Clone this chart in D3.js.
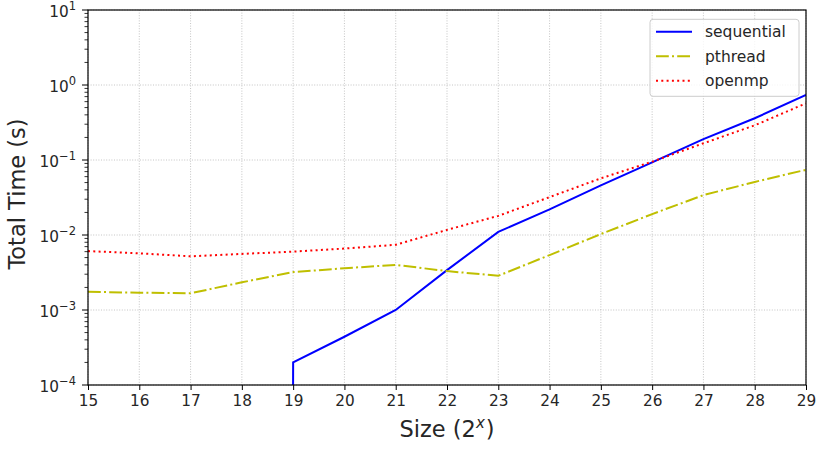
<!DOCTYPE html>
<html>
<head>
<meta charset="utf-8">
<script src="https://cdn.jsdelivr.net/npm/d3@7"></script>
<style>
  body { margin: 0; background: #fff; }
  text { font-family: "DejaVu Sans", sans-serif; fill: #262626; }
</style>
</head>
<body>
<svg id="chart" width="822" height="450"></svg>
<script>
// data
const sizes = [15, 16, 17, 18, 19, 20, 21, 22, 23, 24, 25, 26, 27, 28, 29];
// sequential timed 0 for the small sizes (log axis clips them)
const sequential = [0, 0, 0, 0, 0.0002, 0.00044, 0.001, 0.0034, 0.011, 0.022, 0.046, 0.093, 0.19, 0.36, 0.74];
const pthread = [0.00175, 0.0017, 0.00167, 0.00234, 0.0032, 0.0036, 0.004, 0.0033, 0.00286, 0.0054, 0.0103, 0.019, 0.034, 0.051, 0.074];
const openmp = [0.0061, 0.0057, 0.0052, 0.0056, 0.006, 0.0066, 0.0074, 0.0117, 0.018, 0.032, 0.057, 0.095, 0.167, 0.29, 0.57];
const seriesNames = ["sequential", "pthread", "openmp"];
const yDecades = [-4, -3, -2, -1, 0, 1];

const svg = d3.select("#chart");
const margin = { top: 10, right: 16, bottom: 65, left: 88 };
const W = 822, H = 450;
const iw = W - margin.left - margin.right;
const ih = H - margin.top - margin.bottom;

const x = d3.scaleLinear().domain([15, 29]).range([0, iw]);
const y = d3.scaleLog().domain([1e-4, 1e1]).range([ih, 0]);

const g = svg.append("g").attr("transform", `translate(${margin.left},${margin.top})`);

svg.append("defs").append("clipPath").attr("id", "clip")
  .append("rect").attr("width", iw).attr("height", ih);

// grid
const grid = g.append("g").attr("stroke", "#b0b0b0").attr("stroke-width", 0.8)
  .attr("stroke-dasharray", "1,1.6").attr("opacity", 0.9);
grid.selectAll(".gx").data(sizes).enter().append("line")
  .attr("x1", d => x(d)).attr("x2", d => x(d)).attr("y1", 0).attr("y2", ih);
grid.selectAll(".gy").data(yDecades).enter().append("line")
  .attr("x1", 0).attr("x2", iw).attr("y1", d => y(Math.pow(10, d))).attr("y2", d => y(Math.pow(10, d)));

// lines
const styles = {
  sequential: { color: "#0000ff", dash: null, vals: sequential },
  pthread: { color: "#bfbf00", dash: "12.8,3.2,2,3.2", vals: pthread },
  openmp: { color: "#ff0000", dash: "2,3.3", vals: openmp }
};

const line = d3.line()
  .x(d => x(d[0]))
  .y(d => y(d[1] > 0 ? d[1] : 1e-300));

const lines = g.append("g").attr("clip-path", "url(#clip)");
seriesNames.forEach(name => {
  const s = styles[name];
  lines.append("path")
    .datum(sizes.map((v, i) => [v, s.vals[i]]))
    .attr("d", line)
    .attr("fill", "none")
    .attr("stroke", s.color)
    .attr("stroke-width", 2)
    .attr("stroke-dasharray", s.dash);
});

// frame
g.append("rect").attr("width", iw).attr("height", ih)
  .attr("fill", "none").attr("stroke", "#000").attr("stroke-width", 1.2);

// x axis
const xAxis = g.append("g").attr("transform", `translate(0,${ih})`)
  .call(d3.axisBottom(x).tickValues(sizes).tickFormat(d3.format("d")).tickSize(5).tickPadding(5));
xAxis.select(".domain").remove();
xAxis.selectAll("text").attr("font-size", 15.3).style("font-family", "DejaVu Sans");

// y axis: major ticks with superscript labels, minor ticks 2..9
const minors = [];
yDecades.slice(0, -1).forEach(e => {
  for (let k = 2; k <= 9; k++) minors.push(k * Math.pow(10, e));
});
const yAxis = g.append("g");
yAxis.selectAll(".minor").data(minors).enter().append("line")
  .attr("x1", -3.5).attr("x2", 0).attr("y1", d => y(d)).attr("y2", d => y(d))
  .attr("stroke", "#000").attr("stroke-width", 0.8);
yAxis.selectAll(".major").data(yDecades).enter().append("line")
  .attr("x1", -6).attr("x2", 0)
  .attr("y1", d => y(Math.pow(10, d))).attr("y2", d => y(Math.pow(10, d)))
  .attr("stroke", "#000").attr("stroke-width", 1);
const yl = yAxis.selectAll(".lab").data(yDecades).enter().append("text")
  .attr("x", -12).attr("y", d => y(Math.pow(10, d)) + 6.5)
  .attr("text-anchor", "end").attr("font-size", 15.3);
yl.append("tspan").text("10");
yl.append("tspan").attr("dy", -7).attr("font-size", 11.5)
  .text(d => String(d).replace("-", "\u2212"));

// axis labels
const xl = svg.append("text")
  .attr("x", margin.left + x(22)).attr("y", 437)
  .attr("text-anchor", "middle").attr("font-size", 22.5);
xl.append("tspan").text("Size (2");
xl.append("tspan").attr("dy", -9).attr("font-size", 15).attr("font-style", "italic").text("x");
xl.append("tspan").attr("dy", 9).attr("dx", 1).text(")");

svg.append("text")
  .attr("transform", `translate(24.5,194) rotate(-90)`)
  .attr("text-anchor", "middle").attr("font-size", 22.5)
  .text("Total Time (s)");

// legend
const lg = g.append("g").attr("transform", `translate(${iw - 156},9.3)`);
lg.append("rect").attr("width", 149).attr("height", 77).attr("rx", 3)
  .attr("fill", "#fff").attr("fill-opacity", 0.8)
  .attr("stroke", "#cccccc").attr("stroke-width", 1);
seriesNames.forEach((name, i) => {
  const s = styles[name];
  const ly = 12.4 + i * 24.5;
  lg.append("line").attr("x1", 6).attr("x2", 42).attr("y1", ly).attr("y2", ly)
    .attr("stroke", s.color).attr("stroke-width", 2).attr("stroke-dasharray", s.dash);
  lg.append("text").attr("x", 55).attr("y", ly + 5.5).attr("font-size", 15.5).text(name);
});
</script>
</body>
</html>
